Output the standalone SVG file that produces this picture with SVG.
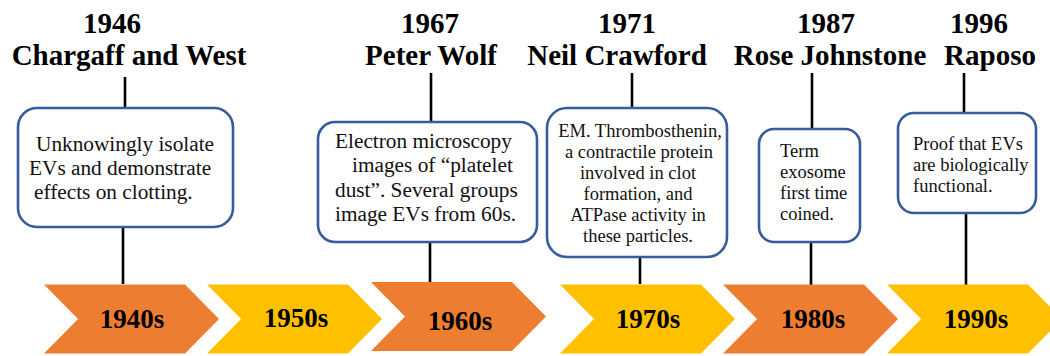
<svg xmlns="http://www.w3.org/2000/svg" width="1050" height="356" viewBox="0 0 1050 356">
  <style>
    .head { font-weight: bold; font-size: 29px; fill: #000; text-anchor: middle; }
    .decade { font-weight: bold; font-size: 27px; fill: #000; text-anchor: middle; }
    .note { font-size: 21.3px; fill: #111; }
    .small { font-size: 18.5px; fill: #111; }
    .box { fill: #fff; stroke: #355C9C; stroke-width: 2.6; }
    .stem { stroke: #000; stroke-width: 2.6; fill: none; }
    .orange { fill: #ED7D31; }
    .yellow { fill: #FFC000; }
  </style>
  <defs>
    <!-- chevron: 175 wide, 69 high, 34 deep point/notch -->
    <path id="chev" d="M0 0 H141 L175 34.5 L141 69 H0 L34 34.5 Z"/>
  </defs>

  <!-- connectors: heading to card, card to decade -->
  <g id="connectors">
    <line class="stem" x1="125" y1="77" x2="125" y2="108"/>
    <line class="stem" x1="123" y1="227" x2="123" y2="284"/>
    <line class="stem" x1="431" y1="73" x2="431" y2="122"/>
    <line class="stem" x1="430" y1="242" x2="430" y2="282"/>
    <line class="stem" x1="632" y1="73" x2="632" y2="108"/>
    <line class="stem" x1="640" y1="257" x2="640" y2="284"/>
    <line class="stem" x1="812" y1="73" x2="812" y2="129"/>
    <line class="stem" x1="811" y1="242" x2="811" y2="285"/>
    <line class="stem" x1="964" y1="73" x2="964" y2="113"/>
    <line class="stem" x1="966" y1="213" x2="966" y2="285"/>
  </g>

  <g font-family="'Liberation Serif', 'Times New Roman', serif">
  <!-- decade chevrons -->
  <g id="d1940">
    <use href="#chev" class="orange" x="44" y="284.5"/>
    <text class="decade" x="132" y="328">1940s</text>
  </g>
  <g id="d1950">
    <use href="#chev" class="yellow" x="207" y="284.5"/>
    <text class="decade" x="296" y="327">1950s</text>
  </g>
  <g id="d1960">
    <use href="#chev" class="orange" x="371" y="282"/>
    <text class="decade" x="460" y="330">1960s</text>
  </g>
  <g id="d1970">
    <use href="#chev" class="yellow" x="560" y="284.5"/>
    <text class="decade" x="648" y="328">1970s</text>
  </g>
  <g id="d1980">
    <use href="#chev" class="orange" x="723" y="284.5"/>
    <text class="decade" x="813" y="328">1980s</text>
  </g>
  <g id="d1990">
    <use href="#chev" class="yellow" x="887" y="284.5"/>
    <text class="decade" x="976" y="328">1990s</text>
  </g>

  <!-- 1946 -->
  <g id="e1946">
    <text class="head" x="112" y="33">1946</text>
    <text class="head" x="129" y="65">Chargaff and West</text>
    <rect class="box" x="18" y="108" width="215" height="119" rx="19"/>
    <text class="note" x="36" y="151">Unknowingly isolate</text>
    <text class="note" x="29" y="175">EVs and demonstrate</text>
    <text class="note" x="34" y="199">effects on clotting.</text>
  </g>

  <!-- 1967 -->
  <g id="e1967">
    <text class="head" x="430" y="33">1967</text>
    <text class="head" x="431" y="65">Peter Wolf</text>
    <rect class="box" x="318" y="122" width="219" height="120" rx="17"/>
    <text class="note" x="335" y="148">Electron microscopy</text>
    <text class="note" x="352" y="172.3">images of “platelet</text>
    <text class="note" x="335" y="196.6">dust”. Several groups</text>
    <text class="note" x="335" y="221">image EVs from 60s.</text>
  </g>

  <!-- 1971 -->
  <g id="e1971">
    <text class="head" x="627" y="33">1971</text>
    <text class="head" x="617" y="65">Neil Crawford</text>
    <rect class="box" x="547" y="108" width="180" height="149" rx="20"/>
    <g class="small" text-anchor="middle">
      <text x="640" y="137">EM. Thrombosthenin,</text>
      <text x="639" y="158">a contractile protein</text>
      <text x="638" y="179">involved in clot</text>
      <text x="638" y="200">formation, and</text>
      <text x="638" y="221">ATPase activity in</text>
      <text x="638" y="242">these particles.</text>
    </g>
  </g>

  <!-- 1987 -->
  <g id="e1987">
    <text class="head" x="826" y="33">1987</text>
    <text class="head" x="830" y="65">Rose Johnstone</text>
    <rect class="box" x="759" y="129" width="101" height="113" rx="15"/>
    <text class="small" x="780" y="157">Term</text>
    <text class="small" x="780" y="178">exosome</text>
    <text class="small" x="780" y="199">first time</text>
    <text class="small" x="780" y="220">coined.</text>
  </g>

  <!-- 1996 -->
  <g id="e1996">
    <text class="head" x="979" y="33">1996</text>
    <text class="head" x="990" y="65">Raposo</text>
    <rect class="box" x="898" y="113" width="138" height="100" rx="16"/>
    <text class="small" x="913" y="150">Proof that EVs</text>
    <text class="small" x="913" y="171">are biologically</text>
    <text class="small" x="913" y="192">functional.</text>
  </g>
  </g>
</svg>
